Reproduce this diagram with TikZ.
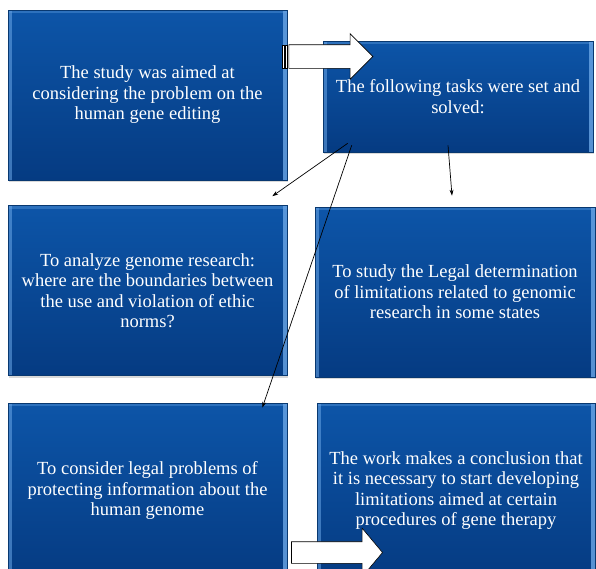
\documentclass[tikz,border=0pt]{standalone}
\usepackage{fontspec}
\setmainfont{Liberation Serif}
\usetikzlibrary{arrows.meta, positioning, shapes.arrows, shadows}
\definecolor{boxtop}{HTML}{0D55A8}
\definecolor{boxbot}{HTML}{053B82}
\definecolor{boxedge}{HTML}{083870}
\definecolor{bevel}{HTML}{6AA6E6}

\begin{document}
\begin{tikzpicture}[
  x=1pt, y=-1pt,
  box/.style={rectangle, draw=boxedge, line width=0.6pt, top color=boxtop, bottom color=boxbot,
    text=white, align=center, inner sep=0pt, minimum width=279pt, minimum height=170pt,
    font=\fontsize{18.5}{20.5}\selectfont,
    drop shadow={shadow xshift=1pt, shadow yshift=-2pt, opacity=0.3},
    path picture={
      \fill[bevel, opacity=0.55] (path picture bounding box.north west) rectangle ([xshift=4pt]path picture bounding box.south west);
      \fill[bevel, opacity=0.8] ([xshift=-4pt]path picture bounding box.north east) rectangle (path picture bounding box.south east);
      \fill[bevel, opacity=0.35] (path picture bounding box.north west) rectangle ([yshift=-3pt]path picture bounding box.north east);
    }},
  blockarr/.style={single arrow, draw=black, fill=white, line width=0.6pt, inner xsep=0pt,
    inner ysep=11.5pt, minimum width=0pt, single arrow head extend=11pt},
  stripe/.style={draw=black, fill=white, line width=0.5pt},
  arr/.style={-{Stealth[length=6pt, width=4pt]}, line width=0.7pt, black},
]
\useasboundingbox (0,0) rectangle (596,568);
\clip (0,0) rectangle (596,568);

%% Boxes
\node[box] (aim) at (147.5,95) {The study was aimed at\\considering the problem on the\\human gene editing};
\node[box, minimum width=270pt, minimum height=111pt] (tasks) at (458,96.5) {The following tasks were set and\\solved:};
\node[box] (genome) at (147.5,290.5) {To analyze genome research:\\where are the boundaries between\\the use and violation of ethic\\norms?};
\node[box, minimum width=280pt] (legal) at (455,292) {To study the Legal determination\\of limitations related to genomic\\research in some states};
\node[box, minimum height=175pt] (protect) at (147.5,490.5) {To consider legal problems of\\protecting information about the\\human genome};
\node[box, minimum width=278pt, minimum height=175pt] (conclusion) at (456,490.5) {The work makes a conclusion that\\it is necessary to start developing\\limitations aimed at certain\\procedures of gene therapy};

%% Block arrows
\node[blockarr, minimum height=84pt] (flow) at (325,56.5) {};
\draw[stripe] ([xshift=-6pt, yshift=11.5pt]flow.west) rectangle ([xshift=-4.5pt, yshift=-11.5pt]flow.west);
\draw[stripe] ([xshift=-3pt, yshift=11.5pt]flow.west) rectangle ([xshift=-1.2pt, yshift=-11.5pt]flow.west);
\node[blockarr, minimum height=91pt, inner ysep=10.5pt, single arrow head extend=13.5pt, single arrow tip angle=100] (onward) at (332.5,552.5) {};

%% Arrows
\draw[arr] ([xshift=25pt, yshift=9pt]tasks.south west) -- ([xshift=-15pt, yshift=9pt]genome.north east);
\draw[arr] ([xshift=29pt, yshift=7pt]tasks.south west) -- ([xshift=-25pt, yshift=-5pt]protect.north east);
\draw[arr] ([xshift=-10pt, yshift=7pt]tasks.south) -- ([xshift=-3pt, yshift=11pt]legal.north);

\end{tikzpicture}
\end{document}
